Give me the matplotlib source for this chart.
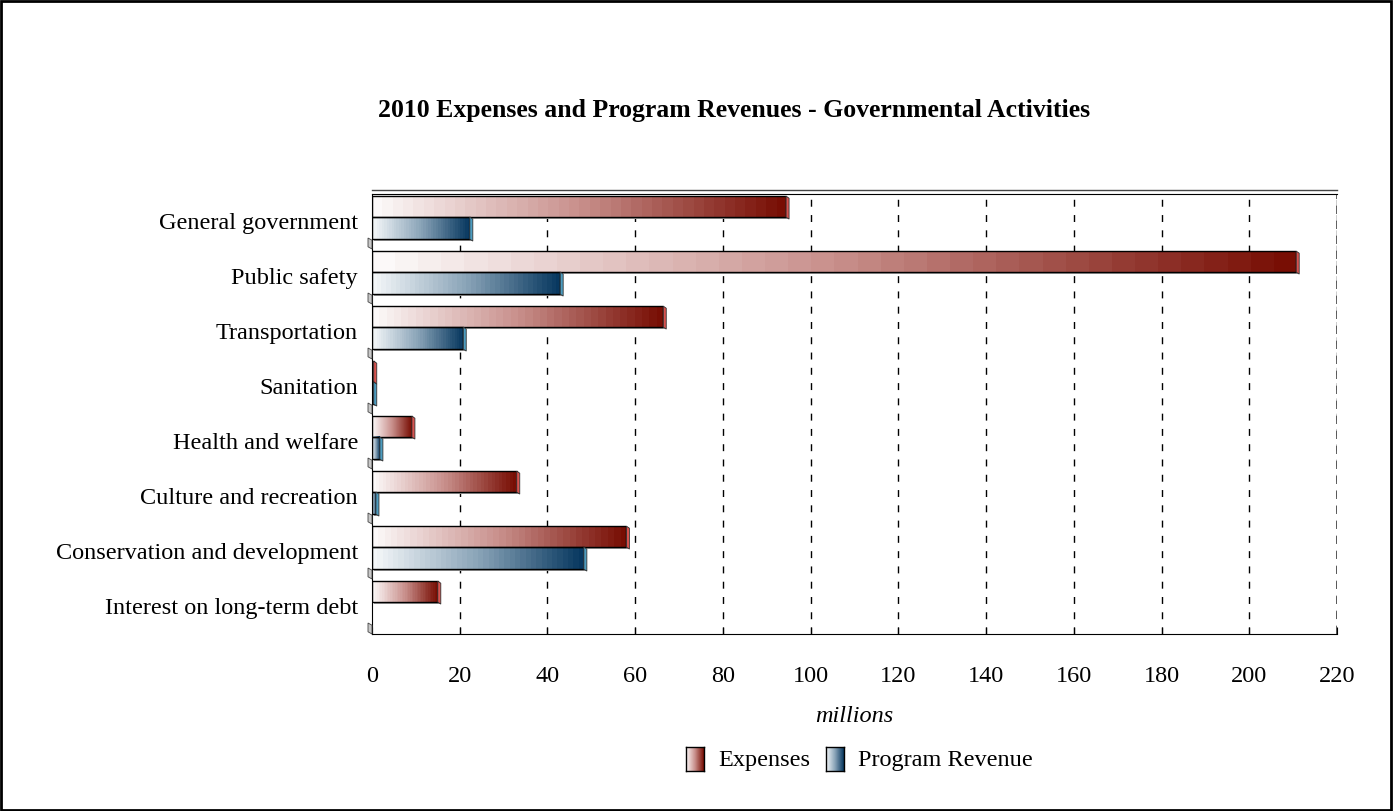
import numpy as np
import matplotlib.pyplot as plt
from matplotlib.patches import Rectangle, Polygon
from matplotlib.colors import LinearSegmentedColormap

categories = ["General government", "Public safety", "Transportation", "Sanitation",
              "Health and welfare", "Culture and recreation",
              "Conservation and development", "Interest on long-term debt"]
expenses = [94.4, 210.7, 66.4, 0.4, 9.1, 33.0, 58.0, 15.0]
program_revenue = [22.3, 42.9, 20.8, 0.4, 1.8, 0.9, 48.3, 0.0]
xticks = [0, 20, 40, 60, 80, 100, 120, 140, 160, 180, 200, 220]

plt.rcParams['font.family'] = ['Liberation Serif', 'DejaVu Serif']

red_cmap = LinearSegmentedColormap.from_list("red", ["#fcf9f9", "#c9908c", "#780e04"])
blue_cmap = LinearSegmentedColormap.from_list("blue", ["#f4f7f9", "#8aa4b8", "#083860"])
grad = np.linspace(0, 1, 40).reshape(1, -1)

fig = plt.figure(figsize=(13.94, 8.12), dpi=100)
ax = fig.add_axes([372 / 1394, 1 - 635 / 812, 965 / 1394, 440 / 812])
ax.set_xlim(0, 220)
ax.set_ylim(8, 0)

# dashed grid
for x in xticks[1:]:
    ax.axvline(x, color="black", lw=1, ls=(0, (5, 6)), zorder=0)

px = 220 / 965.0          # one pixel in data units (x)
py = 8 / 440.0            # one pixel in data units (y)


def bar(y0, y1, value, cmap, cap):
    if value <= 0:
        return
    # shadow
    ax.add_patch(Rectangle((2 * px, y0 + 2 * py), value, y1 - y0,
                           facecolor="#9a9a9a", edgecolor="none", zorder=1))
    ax.imshow(grad, cmap=cmap, extent=(0, value, y1, y0), aspect="auto",
              interpolation="nearest", zorder=2)
    ax.add_patch(Rectangle((0, y0), value, y1 - y0, facecolor="none",
                           edgecolor="black", lw=1, zorder=3))
    # end cap
    ax.add_patch(Polygon([(value, y0), (value + 3 * px, y0 + 2 * py),
                          (value + 3 * px, y1 + 2 * py), (value, y1)],
                         closed=True, facecolor=cap, edgecolor="#333333",
                         lw=0.6, zorder=3))


for i, cat in enumerate(categories):
    bar(i + 0.04, i + 0.42, expenses[i], red_cmap, "#d9534f")
    bar(i + 0.42, i + 0.82, program_revenue[i], blue_cmap, "#4c9cc0")
    # grey base at the wall
    ax.add_patch(Polygon([(-4 * px, i + 0.80), (0, i + 0.84), (0, i + 1.0),
                          (-4 * px, i + 0.96)], closed=True, facecolor="#c8c8c8",
                         edgecolor="#444444", lw=0.6, zorder=3, clip_on=False))
    ax.text(-14 * px, i + 0.52, cat, ha="right", va="center", fontsize=17.5)

ax.set_xticks(xticks)
ax.set_xticklabels([str(t) for t in xticks], fontsize=17.5)
ax.tick_params(axis="x", length=5, pad=22, direction="in")
ax.set_yticks([])
for side in ["left", "top"]:
    ax.spines[side].set_color("black")
ax.spines["right"].set_visible(False)
ax.axvline(220, color="#444444", lw=1.2, ls=(0, (5, 4)), zorder=0)
ax.plot([0, 220], [-4 * py, -4 * py], color="#444444", lw=1, clip_on=False)
ax.set_xlabel("millions", fontsize=17.5, style="italic", labelpad=14)

fig.text(734 / 1394, 1 - 110 / 812, "2010 Expenses and Program Revenues - Governmental Activities",
         ha="center", va="center", fontsize=18.5, fontweight="bold")

# legend
for xs, cmap, cap, label in [(686, red_cmap, "#d9534f", "Expenses"),
                             (826, blue_cmap, "#4c9cc0", "Program Revenue")]:
    lax = fig.add_axes([xs / 1394, 1 - 772 / 812, 18 / 1394, 24 / 812])
    lax.imshow(grad, cmap=cmap, extent=(0, 1, 0, 1), aspect="auto")
    lax.set_xticks([])
    lax.set_yticks([])
    for s in lax.spines.values():
        s.set_linewidth(1)
    fig.text((xs + 32) / 1394, 1 - 761 / 812, label, ha="left", va="center", fontsize=17.5)

fig.add_artist(Rectangle((0.001, 0.001), 0.997, 0.997, transform=fig.transFigure,
                         fill=False, edgecolor="black", lw=2))

fig.savefig("out.png", dpi=100)
